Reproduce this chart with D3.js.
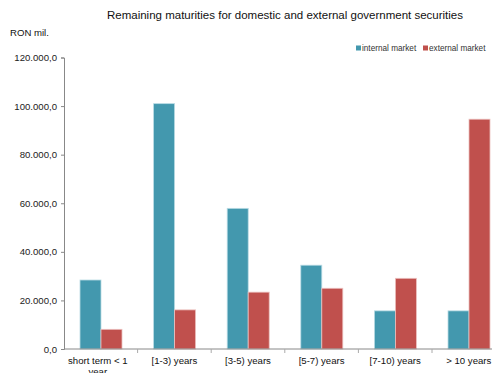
<!DOCTYPE html>
<html>
<head>
<meta charset="utf-8">
<script src="https://cdn.jsdelivr.net/npm/d3@7"></script>
<style>
  html, body { margin: 0; padding: 0; background: #fff; overflow: hidden; }
  svg { display: block; font-family: "Liberation Sans", Arial, sans-serif; }
</style>
</head>
<body>
<svg id="chart" width="492" height="373"></svg>
<script>
// Remaining maturities, RON mil.
const categories = ["short term < 1 year", "[1-3) years", "[3-5) years", "[5-7) years", "[7-10) years", "> 10 years"];
const internalMarket = [28400, 101000, 57900, 34500, 15700, 15700];
const externalMarket = [8100, 16100, 23400, 25000, 29100, 94600];
const seriesNames = ["internal market", "external market"];
const yTicks = [0, 20000, 40000, 60000, 80000, 100000, 120000];

const colors = ["#4398AE", "#C0504D"];
const svg = d3.select("#chart");

const plotLeft = 64, plotTop = 57.5, plotBottom = 349;
const bandW = 73.6;
const plotRight = plotLeft + bandW * categories.length;

const x = d3.scaleBand().domain(categories).range([plotLeft, plotRight]);
const xs = d3.scaleBand().domain(seriesNames).range([16, 58]);
const y = d3.scaleLinear().domain([0, 120000]).range([plotBottom, plotTop]);

const fmt = v => {
  const s = d3.format(",.1f")(v);
  return s.replace(/,/g, "#").replace(".", ",").replace(/#/g, ".");
};

// Title and unit
svg.append("text").attr("x", 285).attr("y", 19).attr("text-anchor", "middle")
  .attr("font-size", 11.5).attr("fill", "#111")
  .text("Remaining maturities for domestic and external government securities");
svg.append("text").attr("x", 10).attr("y", 36).attr("font-size", 9.6).attr("fill", "#111").text("RON mil.");

// Bars
const rows = categories.map((c, i) => ({ c, vals: [internalMarket[i], externalMarket[i]] }));
const groups = svg.append("g").selectAll("g").data(rows).join("g")
  .attr("transform", d => `translate(${x(d.c)},0)`);
groups.selectAll("rect").data(d => d.vals.map((v, k) => ({ v, k })))
  .join("rect")
  .attr("x", d => xs(seriesNames[d.k]))
  .attr("width", xs.bandwidth())
  .attr("y", d => y(d.v))
  .attr("height", d => plotBottom - y(d.v))
  .attr("fill", d => colors[d.k])
  .attr("stroke", d => d.k === 0 ? "#b9dbe4" : "#ecc0bf")
  .attr("stroke-width", 0.8);

// Y axis
const yAxis = svg.append("g").attr("transform", `translate(${plotLeft},0)`)
  .call(d3.axisLeft(y).tickValues(yTicks).tickFormat(fmt).tickSize(3).tickPadding(4));
yAxis.select(".domain").attr("stroke", "#888");
yAxis.selectAll(".tick line").attr("stroke", "#888");
yAxis.selectAll("text").attr("font-size", 9.6).attr("fill", "#222");

// X axis with tick marks at band boundaries
const xAxisG = svg.append("g");
xAxisG.append("line").attr("x1", plotLeft).attr("x2", plotRight).attr("y1", plotBottom).attr("y2", plotBottom)
  .attr("stroke", "#888");
xAxisG.selectAll("line.sep").data(categories.slice(1)).join("line").attr("class", "sep")
  .attr("x1", d => x(d)).attr("x2", d => x(d)).attr("y1", plotBottom).attr("y2", plotBottom + 4)
  .attr("stroke", "#aaa");
const labels = xAxisG.selectAll("text").data(categories).join("text")
  .attr("x", d => x(d) + x.bandwidth() / 2)
  .attr("y", 364)
  .attr("text-anchor", "middle").attr("font-size", 9.6).attr("fill", "#111");
labels.each(function (d) {
  const t = d3.select(this);
  if (d === "short term < 1 year") {
    t.append("tspan").attr("x", x(d) + x.bandwidth() / 2 - 3).text("short term < 1");
    t.append("tspan").attr("x", x(d) + x.bandwidth() / 2 - 3).attr("dy", 11).text("year");
  } else {
    t.text(d);
  }
});

// Legend
const legend = svg.append("g").attr("transform", "translate(356,51)");
const items = [{ n: seriesNames[0], c: colors[0], dx: 0 }, { n: seriesNames[1], c: colors[1], dx: 67 }];
items.forEach(it => {
  legend.append("rect").attr("x", it.dx).attr("y", -5.5).attr("width", 5).attr("height", 5).attr("fill", it.c);
  legend.append("text").attr("x", it.dx + 6).attr("y", 0).attr("font-size", 8.2).attr("fill", "#333").text(it.n);
});
</script>
</body>
</html>
